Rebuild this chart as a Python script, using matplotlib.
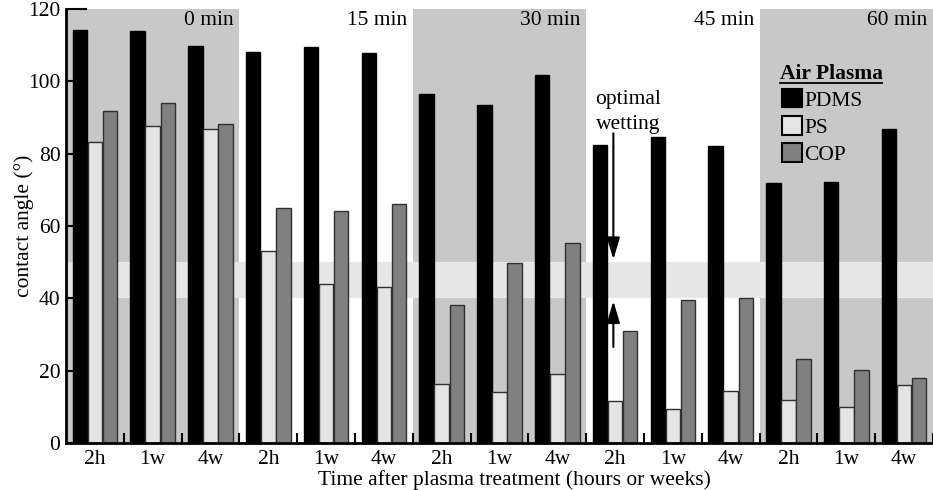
import matplotlib
matplotlib.use('Agg')
import matplotlib.pyplot as plt
from matplotlib.patches import Patch
import numpy as np

plt.rcParams['font.family'] = ['Liberation Serif', 'DejaVu Serif']
plt.rcParams['font.size'] = 15.5

#------------------------------
# data
#------------------------------
groups = ['0 min', '15 min', '30 min', '45 min', '60 min']
times = ['2h', '1w', '4w']
materials = ['PDMS', 'PS', 'COP']

pdms = [114.3, 113.8, 109.9,  108.1, 109.4, 107.8,  96.5, 93.4, 101.8,  82.3, 84.5, 82.0,  71.9, 72.1, 86.8]
ps   = [83.1, 87.6, 86.8,  53.1, 43.9, 43.2,  16.3, 14.0, 19.0,  11.5, 9.3, 14.3,  12.0, 10.0, 15.9]
cop  = [91.8, 93.9, 88.3,  65.1, 64.2, 66.2,  38.2, 49.7, 55.3,  30.9, 39.6, 40.1,  23.3, 20.3, 18.0]

optimal_lo = 40
optimal_hi = 50

#------------------------------
# plot
#------------------------------
fig = plt.figure(figsize=(9.33, 4.9), dpi=100)
ax = fig.add_axes([66/933, 47/490, 867/933, 434/490])

n = len(pdms)
x = np.arange(n)
w = 0.25
colors = ['black', '#e4e4e4', '#808080']
edges = ['black', '#303030', '#303030']

# shaded backgrounds for 0, 30, 60 min
for g in range(len(groups)):
    if g % 2 == 0:
        ax.axvspan(3*g - 0.5, 3*g + 2.5, ymin=0, ymax=1, color='#c8c8c8', lw=0, zorder=0)
ax.axhspan(optimal_lo, optimal_hi, color='#e6e6e6', lw=0, zorder=0.5)

for k, vals in enumerate([pdms, ps, cop]):
    ax.bar(x + (k-1)*0.26, vals, width=w, color=colors[k], edgecolor=edges[k],
           linewidth=1.0, zorder=2, label=materials[k])

# group labels
for g, name in enumerate(groups):
    ax.text(3*g + 2.5 - 0.1, 116.9, name, ha='right', va='center', zorder=3)

ax.set_xlim(-0.5, 14.37)
ax.set_ylim(0, 120)
ax.set_yticks([0, 20, 40, 60, 80, 100, 120])
ax.set_xticks(x)
ax.set_xticklabels(times*len(groups))
ax.set_xticks(np.arange(0.5, n, 1), minor=True)
ax.tick_params(axis='x', which='major', length=0, pad=5)
ax.tick_params(axis='x', which='minor', direction='in', length=7, width=1.5)
ax.tick_params(axis='y', direction='in', length=15, width=1.5, pad=4)
for s in ['top', 'right']:
    ax.spines[s].set_visible(False)
for s in ['left', 'bottom']:
    ax.spines[s].set_linewidth(2)
    ax.spines[s].set_zorder(4)

ax.set_ylabel('contact angle (°)', labelpad=-4)
ax.set_xlabel('Time after plasma treatment (hours or weeks)')
ax.xaxis.set_label_coords(0.517, -0.062)

# optimal wetting arrows
arrow = dict(arrowstyle='-|>,head_length=0.6,head_width=0.18', color='black', lw=1.5, mutation_scale=22)
ax.annotate('', xy=(8.97, optimal_hi), xytext=(8.97, 86.4), arrowprops=arrow, zorder=3)
ax.annotate('', xy=(8.97, optimal_lo), xytext=(8.97, 25.8), arrowprops=arrow, zorder=3)
ax.text(9.22, 91.6, 'optimal\nwetting', ha='center', va='center', linespacing=1.45, zorder=3)

# legend
ax.text(11.86, 102.0, 'Air Plasma', fontweight='bold', ha='left', va='center', zorder=3)
ax.plot([11.86, 13.62], [99.6, 99.6], color='black', lw=1.3, zorder=3)
handles = [Patch(facecolor=colors[k], edgecolor='black', linewidth=1.5) for k in range(3)]
ax.legend(handles, materials, loc='upper left', bbox_to_anchor=(11.88, 97.9),
          bbox_transform=ax.transData, frameon=False,
          handlelength=0.95, handleheight=0.95, handletextpad=0.1,
          labelspacing=0.25, borderpad=0, borderaxespad=0)

plt.savefig('out.png', dpi=100)
plt.close()
